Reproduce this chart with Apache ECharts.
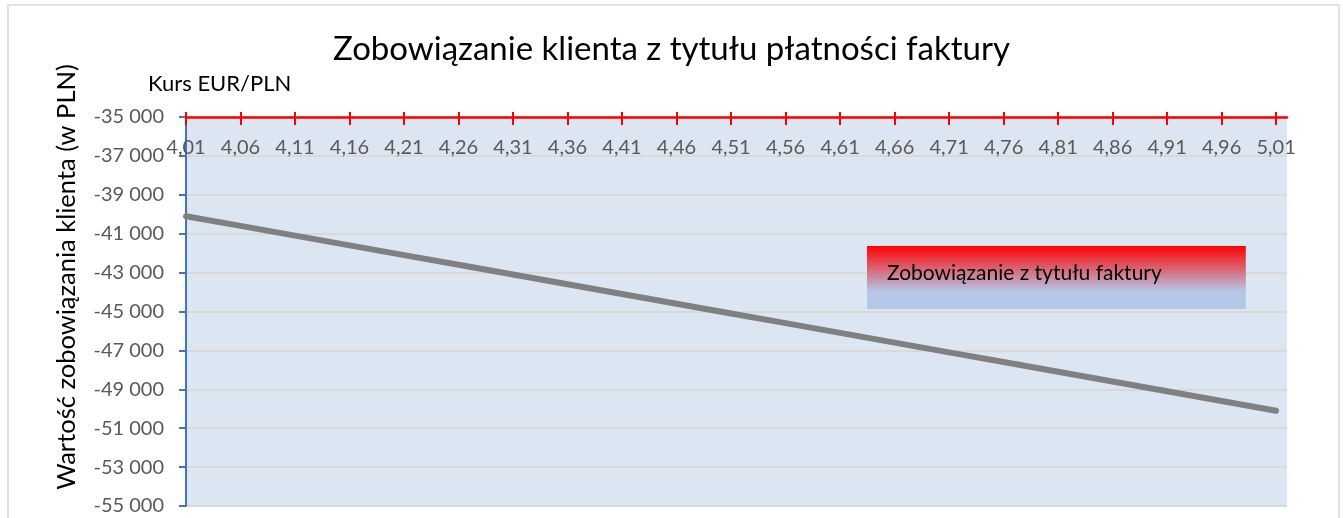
<!DOCTYPE html>
<html>
<head>
<meta charset="utf-8">
<script src="https://cdn.jsdelivr.net/npm/echarts@6/dist/echarts.min.js"></script>
<style>
  html, body { margin: 0; padding: 0; background: #fff; }
  #chart { width: 1343px; height: 518px; }
</style>
</head>
<body>
<div id="chart"></div>
<script>
// kurs EUR/PLN (categories on the x axis)
const rates = [4.01, 4.06, 4.11, 4.16, 4.21, 4.26, 4.31, 4.36, 4.41, 4.46, 4.51,
  4.56, 4.61, 4.66, 4.71, 4.76, 4.81, 4.86, 4.91, 4.96, 5.01];
// zobowiazanie klienta w PLN
const liability = [-40100, -40600, -41100, -41600, -42100, -42600, -43100, -43600,
  -44100, -44600, -45100, -45600, -46100, -46600, -47100, -47600, -48100, -48600,
  -49100, -49600, -50100];
const yTicks = [-55000, -53000, -51000, -49000, -47000, -45000, -43000, -41000,
  -39000, -37000, -35000];

const seriesName = 'Zobowiązanie z tytułu faktury';
const font = 'Lato, "Open Sans", sans-serif';

const fmtRate = v => v.toFixed(2).replace('.', ',');
const fmtPln = v => {
  const s = String(Math.abs(v));
  const g = s.replace(/\B(?=(\d{3})+(?!\d))/g, ' ');
  return (v < 0 ? '-' : '') + g;
};

const chart = echarts.init(document.getElementById('chart'));

chart.setOption({
  animation: false,
  textStyle: { fontFamily: font },
  title: {
    text: 'Zobowiązanie klienta z tytułu płatności faktury',
    left: 'center',
    top: 28,
    textStyle: { fontFamily: font, fontSize: 33, fontWeight: 'normal', color: '#000' }
  },
  legend: {
    data: [{ name: seriesName, icon: 'none' }],
    left: 867,
    top: 246,
    itemWidth: 0,
    itemHeight: 14,
    padding: [17, 84, 25, 15],
    selectedMode: false,
    backgroundColor: {
      type: 'linear', x: 0, y: 0, x2: 0, y2: 1,
      colorStops: [
        { offset: 0, color: '#ff0000' },
        { offset: 0.72, color: '#b4c7e7' },
        { offset: 1, color: '#b4c7e7' }
      ]
    },
    textStyle: { fontFamily: font, fontSize: 21, color: '#000' }
  },
  grid: {
    left: 186,
    top: 117,
    right: 56,
    bottom: 12,
    show: true,
    backgroundColor: '#dce6f2',
    borderWidth: 0
  },
  graphic: [
    {
      type: 'rect',
      z: -10,
      shape: { x: 8, y: 5, width: 1331, height: 560 },
      style: { fill: 'none', stroke: '#d9d9d9', lineWidth: 1.5 }
    },
    {
      type: 'text',
      left: 148,
      top: 73,
      style: { text: 'Kurs EUR/PLN', fontFamily: font, fontSize: 22, fill: '#000' }
    },
    {
      type: 'text',
      x: 67,
      y: 277,
      rotation: Math.PI / 2,
      style: {
        text: 'Wartość zobowiązania klienta (w PLN)',
        fontFamily: font, fontSize: 25.5, fill: '#000',
        align: 'center', verticalAlign: 'middle'
      }
    }
  ],
  xAxis: [
    {
      type: 'value',
      position: 'top',
      min: 4.01,
      max: 5.02,
      axisLine: { lineStyle: { color: '#ff0000', width: 2.5 } },
      axisTick: { show: true, length: 5, customValues: rates, lineStyle: { color: '#ff0000', width: 2 } },
      axisLabel: {
        inside: true,
        margin: 21,
        customValues: rates,
        formatter: fmtRate,
        fontFamily: font,
        fontSize: 20,
        color: '#595959'
      },
      splitLine: { show: false }
    },
    {
      type: 'value',
      position: 'top',
      min: 4.01,
      max: 5.02,
      axisLine: { show: false },
      axisTick: { show: true, inside: true, length: 8, customValues: rates, lineStyle: { color: '#ff0000', width: 2 } },
      axisLabel: { show: false },
      splitLine: { show: false }
    }
  ],
  yAxis: {
    type: 'value',
    min: -55000,
    max: -35000,
    axisLine: { show: true, lineStyle: { color: '#4472c4', width: 2 } },
    axisTick: { show: true, length: 7, customValues: yTicks, lineStyle: { color: '#4472c4', width: 2 } },
    axisLabel: {
      margin: 22,
      customValues: yTicks,
      formatter: fmtPln,
      fontFamily: font,
      fontSize: 20,
      color: '#595959'
    },
    splitLine: { show: true, lineStyle: { color: '#d9d9d9', width: 2 } }
  },
  series: [
    {
      name: seriesName,
      type: 'line',
      xAxisIndex: 0,
      data: rates.map((r, i) => [r, liability[i]]),
      showSymbol: false,
      lineStyle: { color: '#808080', width: 6, cap: 'round' },
      itemStyle: { color: '#808080' }
    }
  ]
});
</script>
</body>
</html>
